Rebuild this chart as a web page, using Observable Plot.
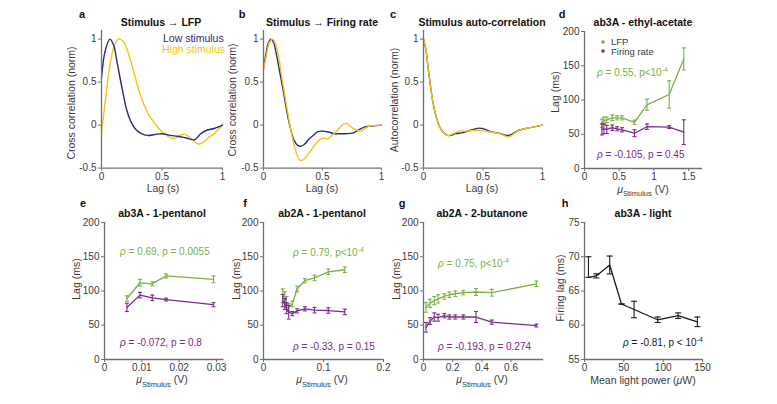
<!DOCTYPE html>
<html><head><meta charset="utf-8">
<script src="https://cdn.jsdelivr.net/npm/d3@7"></script>
<script src="https://cdn.jsdelivr.net/npm/@observablehq/plot@0.6"></script>
<style>
body{margin:0;background:#fff;}
#root{position:relative;width:777px;height:404px;overflow:hidden;background:#fff;}
#root svg{position:absolute;}
</style></head><body><div id="root"></div>
<script>
// ---------- DATA ----------
// Panel a: Stimulus -> LFP  [lag (s), norm. cross-correlation]
const aLow = [[0,0.55],[0.03,0.86],[0.07,1.0],[0.1,0.93],[0.13,0.72],[0.17,0.43],[0.21,0.17],[0.25,0.02],[0.29,-0.06],[0.33,-0.1],[0.38,-0.12],[0.44,-0.11],[0.5,-0.1],[0.57,-0.12],[0.63,-0.13],[0.7,-0.15],[0.77,-0.17],[0.82,-0.1],[0.87,-0.06],[0.93,-0.04],[1.0,0]];
const aHigh = [[0,-0.08],[0.025,0.2],[0.05,0.5],[0.08,0.78],[0.11,0.94],[0.135,0.995],[0.155,1.0],[0.19,0.95],[0.23,0.8],[0.27,0.6],[0.31,0.4],[0.35,0.24],[0.39,0.12],[0.43,0.04],[0.47,-0.03],[0.51,-0.09],[0.55,-0.13],[0.6,-0.155],[0.65,-0.12],[0.68,-0.105],[0.72,-0.13],[0.76,-0.18],[0.8,-0.22],[0.84,-0.2],[0.88,-0.15],[0.93,-0.1],[1.0,0]];
// Panel b: Stimulus -> Firing rate
const bLow = [[0,0.66],[0.02,0.82],[0.04,0.95],[0.062,1.0],[0.085,0.96],[0.11,0.82],[0.14,0.6],[0.17,0.38],[0.2,0.14],[0.23,-0.05],[0.26,-0.18],[0.29,-0.235],[0.32,-0.245],[0.35,-0.22],[0.38,-0.17],[0.42,-0.12],[0.46,-0.075],[0.5,-0.07],[0.55,-0.08],[0.6,-0.1],[0.65,-0.1],[0.7,-0.1],[0.76,-0.09],[0.8,-0.06],[0.86,-0.02],[0.92,-0.01],[1.0,0]];
const bHigh = [[0,0.64],[0.02,0.78],[0.05,0.96],[0.075,1.0],[0.1,0.95],[0.13,0.78],[0.16,0.52],[0.19,0.27],[0.22,0.03],[0.25,-0.18],[0.28,-0.33],[0.31,-0.41],[0.34,-0.4],[0.37,-0.35],[0.4,-0.3],[0.43,-0.24],[0.46,-0.19],[0.5,-0.15],[0.54,-0.16],[0.58,-0.12],[0.62,-0.07],[0.66,-0.01],[0.7,0.02],[0.74,-0.02],[0.78,-0.05],[0.82,-0.07],[0.86,-0.04],[0.9,-0.01],[1.0,0]];
// Panel c: Stimulus auto-correlation
const cLow = [[0,1.0],[0.02,0.88],[0.04,0.65],[0.06,0.44],[0.08,0.26],[0.1,0.13],[0.12,0.04],[0.14,-0.03],[0.17,-0.09],[0.2,-0.12],[0.23,-0.12],[0.27,-0.1],[0.32,-0.09],[0.37,-0.07],[0.42,-0.05],[0.47,-0.035],[0.52,-0.05],[0.57,-0.08],[0.62,-0.09],[0.67,-0.11],[0.71,-0.12],[0.75,-0.1],[0.8,-0.06],[0.86,-0.04],[0.93,-0.02],[1.0,0]];
const cHigh = [[0,1.0],[0.02,0.88],[0.04,0.65],[0.06,0.44],[0.08,0.26],[0.1,0.13],[0.12,0.04],[0.14,-0.03],[0.17,-0.09],[0.2,-0.12],[0.25,-0.1],[0.3,-0.07],[0.35,-0.07],[0.4,-0.065],[0.47,-0.06],[0.52,-0.07],[0.58,-0.085],[0.64,-0.1],[0.69,-0.13],[0.72,-0.14],[0.76,-0.1],[0.8,-0.06],[0.86,-0.04],[0.93,-0.02],[1.0,0]];

// Panel d: ab3A - ethyl-acetate
const dX = [0.25,0.28,0.32,0.4,0.47,0.54,0.72,0.9,1.22,1.43];
const dLfp = [66,70,71,74,74,74,67.5,93,108,160];
const dLfpErr = [6,5,4,4,3,3,3,8,20,16];
const dFr = [57,58,57,59.5,58,56.5,51.5,61,60.5,53];
const dFrErr = [8,7,6,4,3,3,5,4,2,18];
// Panel e: ab3A - 1-pentanol
const eX = [0.006,0.0095,0.0128,0.0165,0.0292];
const eLfp = [89,112,110.5,122,117];
const eLfpErr = [4,5,3,3,5];
const eFr = [76,94,90,87.5,80];
const eFrErr = [6,4,4,2,3];
// Panel f: ab2A - 1-pentanol
const fX = [0.032,0.0355,0.0383,0.042,0.048,0.056,0.069,0.085,0.108,0.1355];
const fLfp = [93,91,84,76,81,103,115,119,128,131];
const fLfpErr = [10,8,8,6,4,4,3,4,4,4];
const fFr = [86,81,75,69,67,71,74,72,71.5,69.5];
const fFrErr = [9,8,8,10,3,3,3,4,4,4];
// Panel g: ab2A - 2-butanone
const gX = [0.017,0.045,0.074,0.1,0.143,0.177,0.218,0.273,0.36,0.468,0.774];
const gLfp = [76,82,86,88.5,92,94.5,96,97.5,98.5,97.5,110.5];
const gLfpErr = [7,6,6,6,4,4,4,3,5,5,4];
const gFr = [47,56,62,61,64,62,62,62,62,54.5,49.5];
const gFrErr = [7,5,6,5,3,3,3,3,8,3,2];
// Panel h: ab3A - light
const hX = [5,15,32,47,63,93,119,143.5];
const hLag = [67,67.2,68.8,63.1,62.3,60.8,61.4,60.5];
const hLo = [67,66.9,67.5,63.1,61.1,60.4,61.0,59.8];
const hHi = [70,67.5,70.1,63.1,63.5,61.2,61.8,61.2];

// ticks
const corrTicksY = [-0.5,0,0.5,1], lagTicksX = [0,0.5,1];
const msTicks = [0,50,100,150,200];
const dTicksX = [0,0.5,1,1.5], eTicksX = [0,0.01,0.02,0.03], fTicksX = [0,0.1,0.2], gTicksX = [0,0.2,0.4,0.6];
const hTicksX = [0,50,100,150], hTicksY = [55,60,65,70,75];

// ---------- STYLE ----------
const FONT = '"Liberation Sans", Arial, Helvetica, sans-serif';
const AXIS = "#707070", TXT = "#3a3a3a";
const BLUE = "#2b2a7c", YELLOW = "#f5c518", GREEN = "#79b243", PURPLE = "#7a2b8c", BLACK = "#1a1a1a";
const root = document.getElementById("root");

const cap = {draw(ctx, size) { const w = Math.sqrt(size / Math.PI); ctx.moveTo(-w, 0); ctx.lineTo(w, 0); }};

function curve(data, color) {
  return Plot.line(data, {x: d => d[0], y: d => d[1], stroke: color, strokeWidth: 1.4, curve: "catmull-rom"});
}
function errSeries(X, Y, lo, hi, color, capR = 2) {
  const idx = d3.range(X.length);
  return [
    Plot.line(idx, {x: i => X[i], y: i => Y[i], stroke: color, strokeWidth: 1.3}),
    Plot.ruleX(idx, {x: i => X[i], y1: i => lo[i], y2: i => hi[i], stroke: color, strokeWidth: 1.1}),
    Plot.dot(idx, {x: i => X[i], y: i => lo[i], symbol: cap, r: capR, stroke: color, fill: "none", strokeWidth: 1.1}),
    Plot.dot(idx, {x: i => X[i], y: i => hi[i], symbol: cap, r: capR, stroke: color, fill: "none", strokeWidth: 1.1})
  ];
}
function symErr(X, Y, E, color) {
  return errSeries(X, Y, Y.map((v, i) => v - E[i]), Y.map((v, i) => v + E[i]), color);
}

function panel(o) {
  const ml = 40, mr = 12, mt = 6, mb = 24;
  const width = o.R - o.L + ml + mr, height = o.B - o.T + mt + mb;
  const svg = Plot.plot({
    width, height, marginLeft: ml, marginRight: mr, marginTop: mt, marginBottom: mb,
    style: {fontFamily: FONT, fontSize: "10px", background: "transparent", overflow: "visible"},
    x: {domain: o.xd, label: null},
    y: {domain: o.yd, label: null},
    marks: [
      ...o.marks,
      Plot.ruleY([o.yd[0]], {stroke: AXIS, strokeWidth: 1.3}),
      Plot.ruleX([o.xd[0]], {stroke: AXIS, strokeWidth: 1.3}),
      Plot.axisX({ticks: o.xt, tickSize: 3, tickPadding: 1.5, tickFormat: d => String(d), stroke: AXIS, fill: TXT, label: null}),
      Plot.axisY({ticks: o.yt, tickSize: 3, tickPadding: 2, tickFormat: d => String(d), stroke: AXIS, fill: TXT, label: null})
    ]
  });
  svg.style.left = (o.L - ml) + "px";
  svg.style.top = (o.T - mt) + "px";
  root.appendChild(svg);
}

panel({L: 101, R: 222, T: 30.4, B: 168, xd: [0, 1], yd: [-0.5, 1.1], xt: lagTicksX, yt: corrTicksY,
  marks: [curve(aHigh, YELLOW), curve(aLow, BLUE)]});
panel({L: 263, R: 381, T: 30.4, B: 168, xd: [0, 1], yd: [-0.5, 1.1], xt: lagTicksX, yt: corrTicksY,
  marks: [curve(bLow, BLUE), curve(bHigh, YELLOW)]});
panel({L: 423, R: 542, T: 30.4, B: 168, xd: [0, 1], yd: [-0.5, 1.1], xt: lagTicksX, yt: corrTicksY,
  marks: [curve(cLow, BLUE), curve(cHigh, YELLOW)]});
panel({L: 584, R: 702, T: 31, B: 168, xd: [0, 1.7], yd: [0, 200], xt: dTicksX, yt: msTicks,
  marks: [...symErr(dX, dLfp, dLfpErr, GREEN), ...symErr(dX, dFr, dFrErr, PURPLE)]});
panel({L: 103.5, R: 223, T: 222, B: 359, xd: [0, 0.032], yd: [0, 200], xt: eTicksX, yt: msTicks,
  marks: [...symErr(eX, eLfp, eLfpErr, GREEN), ...symErr(eX, eFr, eFrErr, PURPLE)]});
panel({L: 263, R: 383, T: 222, B: 359, xd: [0, 0.2], yd: [0, 200], xt: fTicksX, yt: msTicks,
  marks: [...symErr(fX, fLfp, fLfpErr, GREEN), ...symErr(fX, fFr, fFrErr, PURPLE)]});
panel({L: 422.5, R: 542.7, T: 222, B: 359, xd: [0, 0.824], yd: [0, 200], xt: gTicksX, yt: msTicks,
  marks: [...symErr(gX, gLfp, gLfpErr, GREEN), ...symErr(gX, gFr, gFrErr, PURPLE)]});
panel({L: 584, R: 702, T: 222, B: 359, xd: [0, 150], yd: [55, 75], xt: hTicksX, yt: hTicksY,
  marks: [...errSeries(hX, hLag, hLo, hHi, BLACK, 3)]});

// ---------- TEXT OVERLAY ----------
const ov = d3.select(root).append("svg")
  .attr("width", 777).attr("height", 404)
  .style("left", "0px").style("top", "0px")
  .attr("font-family", FONT);

function rich(x, y, segs, o = {}) {
  const t = ov.append("text").attr("x", x).attr("y", y)
    .attr("font-size", o.size || 10).attr("fill", o.color || TXT)
    .attr("text-anchor", o.anchor || "start")
    .attr("font-weight", o.bold ? "bold" : null);
  if (o.rotate) t.attr("transform", `rotate(-90 ${x} ${y})`);
  let shift = 0;
  for (const s of [].concat(segs)) {
    const seg = typeof s === "string" ? {t: s} : s;
    const sp = t.append("tspan").text(seg.t).attr("fill", o.color || TXT);
    let target = 0;
    if (seg.sup) { target = -4; sp.attr("font-size", 7); }
    if (seg.sub) { target = 3.5; sp.attr("font-size", 7.5); }
    if (target !== shift) { sp.attr("dy", target - shift); shift = target; }
    if (seg.it) sp.attr("font-style", "italic");
  }
  return t;
}

// panel letters
[["a",82,18],["b",242,18],["c",393,18],["d",562,18],["e",83,207],["f",245,207],["g",402,207],["h",565,207]]
  .forEach(([s,x,y]) => rich(x, y, s, {bold: true, size: 11, anchor: "middle", color: "#111"}));
// titles
[["Stimulus \u2192 LFP",161,26],["Stimulus \u2192 Firing rate",322,26],["Stimulus auto-correlation",482,26],["ab3A - ethyl-acetate",643,26],
 ["ab3A - 1-pentanol",162,217],["ab2A - 1-pentanol",322,217],["ab2A - 2-butanone",482,217],["ab3A - light",643,217]]
  .forEach(([s,x,y]) => rich(x, y, s, {bold: true, size: 10.5, anchor: "middle", color: "#111"}));
// y labels
[["Cross correlation (norm)",75,103],["Cross correlation (norm)",236,100],["Autocorrelation (norm)",398,100],["Lag (ms)",559,92],
 ["Lag (ms)",80,279],["Lag (ms)",240,279],["Lag (ms)",400,279],["Firing lag (ms)",564,288]]
  .forEach(([s,x,y]) => rich(x, y, s, {size: 10.5, anchor: "middle", rotate: true}));
// x labels
[163,322,482].forEach(x => rich(x, 192, "Lag (s)", {size: 10.5, anchor: "middle"}));
const muStim = [{t: "\u03bc", it: true}, {t: "Stimulus", sub: true}, {t: " (V)"}];
[[643,192.5],[162,383],[322,383],[482,383]].forEach(([x,y]) => rich(x, y, muStim, {size: 10.5, anchor: "middle"}));
rich(643, 384, ["Mean light power (", {t: "\u03bc", it: true}, "W)"], {size: 10.5, anchor: "middle"});
// legend a
rich(163, 41.5, "Low stimulus", {size: 10.5, color: BLUE});
rich(162, 52.5, "High stimulus", {size: 10.5, color: YELLOW});
// legend d
ov.append("circle").attr("cx", 603).attr("cy", 42).attr("r", 1.8).attr("fill", GREEN);
ov.append("circle").attr("cx", 603).attr("cy", 51).attr("r", 1.8).attr("fill", PURPLE);
rich(611, 45, "LFP", {size: 9.5});
rich(611, 54.5, "Firing rate", {size: 9.5});
// statistics
const rho = {t: "\u03c1", it: true};
rich(597, 76, [rho, " = 0.55, p<10", {t: "-4", sup: true}], {color: GREEN});
rich(597, 158, [rho, " = -0.105, p = 0.45"], {color: PURPLE});
rich(120, 255, [rho, " = 0.69, p = 0.0055"], {color: GREEN});
rich(120, 346, [rho, " = -0.072, p = 0.8"], {color: PURPLE});
rich(293, 256, [rho, " = 0.79, p<10", {t: "-4", sup: true}], {color: GREEN});
rich(293, 350, [rho, " = -0.33, p = 0.15"], {color: PURPLE});
rich(438, 267, [rho, " = 0.75, p<10", {t: "-4", sup: true}], {color: GREEN});
rich(438, 350, [rho, " = -0.193, p = 0.274"], {color: PURPLE});
rich(623, 346, [rho, " = -0.81, p < 10", {t: "-4", sup: true}], {color: BLACK});
</script>
</body></html>
